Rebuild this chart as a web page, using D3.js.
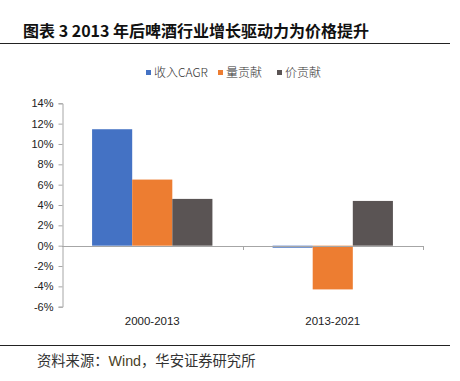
<!DOCTYPE html>
<html>
<head>
<meta charset="utf-8">
<script src="https://cdn.jsdelivr.net/npm/d3@7"></script>
<style>
  body { margin: 0; background: #fff; }
  svg { display: block; }
</style>
</head>
<body>
<svg id="chart" width="460" height="381"></svg>
<script>
// data
var categories = ["2000-2013", "2013-2021"];
var seriesNames = ["收入CAGR", "量贡献", "价贡献"];
var seriesColors = ["#4472C4", "#ED7D31", "#5A5454"];
var revenue = [11.45, -0.2];
var volume = [6.5, -4.3];
var price = [4.6, 4.4];
var yTicks = [14, 12, 10, 8, 6, 4, 2, 0, -2, -4, -6];

var series = [revenue, volume, price];

const svg = d3.select("#chart");
const cjk = "'Noto Sans CJK SC', sans-serif";
const latin = "'Liberation Sans', Arial, sans-serif";

// title + rules
svg.append("text")
    .attr("x", 23).attr("y", 37)
    .style("font", "bold 16px " + cjk)
    .attr("fill", "#111")
    .text("图表 3 2013 年后啤酒行业增长驱动力为价格提升");
svg.append("line").attr("x1", 0).attr("x2", 450).attr("y1", 43.5).attr("y2", 43.5)
    .attr("stroke", "#222").attr("stroke-width", 1);
svg.append("line").attr("x1", 0).attr("x2", 450).attr("y1", 345.5).attr("y2", 345.5)
    .attr("stroke", "#222").attr("stroke-width", 1);

// source
const src = svg.append("text")
    .attr("x", 37).attr("y", 366)
    .style("font", "14.3px " + cjk)
    .attr("fill", "#333");
src.append("tspan").text("资料来源：");
src.append("tspan").attr("fill", "#4a3f26").style("font-family", latin).text("Wind");
src.append("tspan").text("，华安证券研究所");

// scales
const x0 = d3.scaleBand().domain(categories).range([62, 423]);
const x1 = d3.scaleBand().domain(d3.range(3))
    .range([0, x0.bandwidth()]).paddingOuter(0.75).paddingInner(0);
const y = d3.scaleLinear().domain([-6, 14]).range([306.7, 103.3]);

// y axis
const yAxis = d3.axisLeft(y).tickValues(yTicks).tickSize(4).tickPadding(5)
    .tickFormat(d => d + "%");
const ga = svg.append("g").attr("transform", "translate(62.5,0)").call(yAxis);
ga.select(".domain").attr("stroke", "#A6A6A6");
ga.selectAll(".tick line").attr("stroke", "#A6A6A6");
ga.selectAll(".tick text").attr("fill", "#222")
    .style("font", "11px " + latin);

// bars
const groups = svg.append("g").selectAll("g")
    .data(categories)
    .join("g")
    .attr("transform", d => `translate(${x0(d)},0)`);

groups.selectAll("rect")
    .data((d, i) => series.map((s, j) => ({ j: j, v: s[i] })))
    .join("rect")
    .attr("x", d => x1(d.j))
    .attr("width", x1.bandwidth())
    .attr("y", d => y(Math.max(0, d.v)))
    .attr("height", d => Math.abs(y(d.v) - y(0)))
    .attr("fill", d => seriesColors[d.j]);

// zero line with category ticks
svg.append("line")
    .attr("x1", 62).attr("x2", 423)
    .attr("y1", Math.round(y(0)) + 0.5).attr("y2", Math.round(y(0)) + 0.5)
    .attr("stroke", "#A6A6A6");
[x0.range()[0] + x0.bandwidth(), x0.range()[1]].forEach(function (xx) {
    svg.append("line")
        .attr("x1", Math.round(xx) + 0.5).attr("x2", Math.round(xx) + 0.5)
        .attr("y1", Math.round(y(0))).attr("y2", Math.round(y(0)) + 4)
        .attr("stroke", "#A6A6A6");
});

// category labels
svg.append("g").selectAll("text")
    .data(categories)
    .join("text")
    .attr("x", d => x0(d) + x0.bandwidth() / 2)
    .attr("y", 325)
    .attr("text-anchor", "middle")
    .style("font", "11.5px " + latin)
    .attr("fill", "#222")
    .text(d => d);

// legend
const legendX = [146, 218, 277];
const lg = svg.append("g").selectAll("g")
    .data(seriesNames)
    .join("g")
    .attr("transform", (d, i) => `translate(${legendX[i]},73)`);
lg.append("rect").attr("x", 0).attr("y", -3).attr("width", 5).attr("height", 5)
    .attr("fill", (d, i) => seriesColors[i]);
lg.append("text").attr("x", 8).attr("y", 4)
    .style("font", "300 12px " + cjk)
    .attr("fill", "#333")
    .text(d => d);
</script>
</body>
</html>
